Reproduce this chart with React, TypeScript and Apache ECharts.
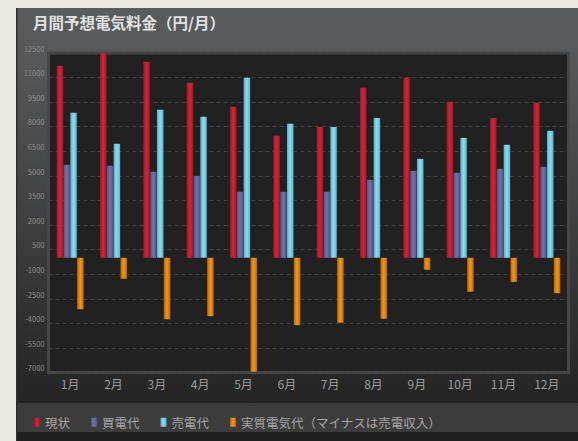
import React, { useEffect, useRef } from "react";
import * as echarts from "echarts";

const months = ["1月", "2月", "3月", "4月", "5月", "6月", "7月", "8月", "9月", "10月", "11月", "12月"];
const seriesNames = ["現状", "買電代", "売電代", "実質電気代（マイナスは売電収入）"];
const currentCost = [11720, 12500, 11960, 10680, 9220, 7450, 7990, 10380, 10990, 9520, 8540, 9460];
const buyCost = [5680, 5620, 5250, 5000, 4030, 4030, 4030, 4760, 5310, 5190, 5430, 5560];
const sellIncome = [8850, 6960, 9030, 8610, 10990, 8180, 7990, 8540, 6040, 7320, 6900, 7750];
const netCost = [-3140, -1280, -3750, -3560, -6960, -4110, -3960, -3720, -730, -2070, -1470, -2160];
const yMin = -7000;
const yMax = 12500;
const yStep = 1500;

const FONT = "'Noto Sans CJK JP', 'Noto Sans', sans-serif";

function barGrad(edge: string, mid: string) {
  return new echarts.graphic.LinearGradient(0, 0, 1, 0, [
    { offset: 0, color: edge },
    { offset: 0.5, color: mid },
    { offset: 1, color: edge },
  ]);
}

export default function App() {
  const ref = useRef<HTMLDivElement>(null);
  useEffect(() => {
    if (!ref.current) return;
    const chart = echarts.init(ref.current, null, { renderer: "svg" });
    const colors = [
      barGrad("#9e1627", "#d2263a"),
      barGrad("#51517f", "#7474aa"),
      barGrad("#5aaec6", "#90dcf0"),
      barGrad("#b26808", "#f7980f"),
    ];
    const datas = [currentCost, buyCost, sellIncome, netCost];
    chart.setOption({
      animation: false,
      graphic: [
        {
          type: "rect",
          z: -10,
          shape: { x: 16, y: 8, width: 562, height: 395 },
          style: {
            fill: new echarts.graphic.LinearGradient(0, 0, 0, 1, [
              { offset: 0, color: "#5a5b5d" },
              { offset: 0.12, color: "#57585a" },
              { offset: 1, color: "#242424" },
            ]),
          },
        },
        { type: "rect", z: -10, shape: { x: 16, y: 403, width: 562, height: 29 }, style: { fill: "#3c3c3c" } },
        { type: "rect", z: -10, shape: { x: 16, y: 432, width: 562, height: 9 }, style: { fill: "#1e1e1e" } },
        { type: "rect", z: -9, shape: { x: 16, y: 8, width: 1.5, height: 433 }, style: { fill: "#2e2e2e" } },
        {
          type: "text",
          x: 33,
          y: 14,
          style: {
            text: "月間予想電気料金（円/月）",
            fill: "#e2e2e2",
            font: `bold 15.5px ${FONT}`,
          },
        },
      ],
      legend: {
        left: 29,
        top: 411,
        itemWidth: 6,
        itemHeight: 9,
        itemGap: 21,
        icon: "rect",
        textStyle: { color: "#a6a6a6", fontSize: 12.5, fontFamily: FONT },
        data: seriesNames,
      },
      grid: {
        left: 48.5,
        right: 9.5,
        top: 53,
        bottom: 68.5,
        show: true,
        backgroundColor: "#212121",
        borderColor: "#474747",
        borderWidth: 3,
      },
      xAxis: {
        type: "category",
        data: months,
        axisLine: { show: false },
        axisTick: { show: false },
        axisLabel: { color: "#9c9c9c", fontSize: 12, fontFamily: FONT, margin: 5 },
      },
      yAxis: {
        type: "value",
        min: yMin,
        max: yMax,
        interval: yStep,
        axisLine: { show: false },
        axisTick: { show: false },
        splitLine: { lineStyle: { color: "#404040", type: [4, 3], width: 1 } },
        axisLabel: {
          color: "#8e8e8e",
          fontSize: 7.5,
          fontFamily: FONT,
          margin: 4,
          verticalAlign: "bottom",
          padding: [0, 0, 1, 0],
          formatter: (v: number) => String(v),
        },
      },
      series: seriesNames.map((name, i) => ({
        name,
        type: "bar",
        data: datas[i],
        barWidth: 6.5,
        barGap: "5%",
        itemStyle: { color: colors[i] },
      })),
    });
    return () => chart.dispose();
  }, []);
  return (
    <div
      ref={ref}
      style={{ position: "fixed", left: 0, top: 0, width: 578, height: 441, background: "#ebe7e3" }}
    />
  );
}
